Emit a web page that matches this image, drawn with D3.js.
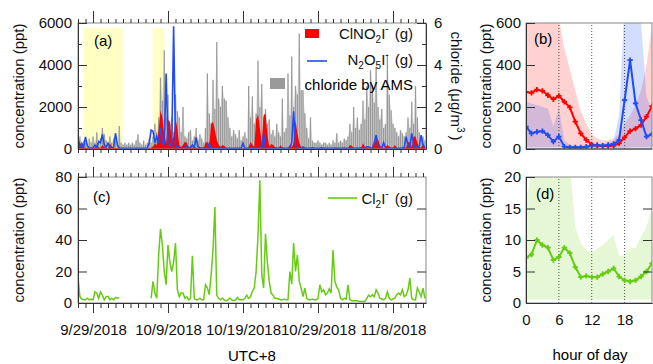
<!DOCTYPE html>
<html>
<head>
<meta charset="utf-8">
<script src="https://cdn.jsdelivr.net/npm/d3@7"></script>
<style>
  body { margin: 0; background: #fff; }
  svg { display: block; font-family: "Liberation Sans", Arial, sans-serif; }
</style>
</head>
<body>
<svg id="chart" width="653" height="364"></svg>
<script>
// time series: days since 9/27/2018 00:00 (UTC+8), one value every 6 h
const stepDays = 0.25;

// ClNO2I- (ppt)
const clno2 = [
  650,300,150,80,  60,50,40,30,  30,60,140,80,  40,190,100,40,  30,270,120,40,
  30,50,40,20,  20,20,20,20,  20,30,20,20,  20,40,30,20,  20,30,40,60,
  120,270,180,900,  1850,1500,700,300,  1380,1300,400,600,  1450,1000,190,80,  200,350,300,80,
  100,60,100,60,  40,60,50,40,  300,350,100,1200,  1300,900,430,200,  100,190,150,60,
  40,60,40,50,  60,40,70,40,  30,60,40,80,  350,200,100,1400,  1650,1000,300,1600,
  1700,700,100,240,  200,80,60,40,  190,60,40,40,  60,190,80,300,  1380,745,300,100,
  100,60,40,30,  30,20,30,20,  20,30,20,20,  20,30,20,30,  20,30,40,20,
  30,20,40,30,  40,190,150,60,  40,60,40,50,  270,100,60,40,  40,60,200,500,
  450,200,60,40,  100,190,120,40,  60,190,60,40,  40,60,40,80,  350,300,100,590,
  590,300,100,60,  270,100
];

// N2O5I- (ppt)
const n2o5 = [
  50,100,270,80,  580,150,60,50,  60,190,80,350,  300,700,200,80,  270,100,60,80,
  750,200,40,30,  30,30,30,30,  30,30,30,30,  30,30,30,30,  30,60,300,900,
  850,300,600,300,  1000,300,200,3600,  300,200,150,5850,  150,100,80,60,  80,60,120,60,
  80,200,60,550,  100,60,40,40,  40,60,270,60,  40,30,30,30,  40,30,30,30,
  30,30,30,30,  30,30,30,30,  270,40,30,30,  30,40,30,30,  60,100,40,745,
  60,40,30,30,  30,30,40,30,  30,60,30,30,  30,60,300,1800,  200,60,40,30,
  100,40,30,30,  30,60,30,30,  30,30,60,30,  30,30,30,30,  30,40,30,30,
  30,30,40,30,  30,30,40,30,  30,40,30,60,  40,60,100,100,  40,60,300,665,
  200,60,40,300,  60,40,30,40,  30,40,30,30,  30,40,80,590,  150,100,745,200,
  60,100,120,665,  190,60
];

// chloride by AMS (ug/m3)
const chloride = [
  0.3,0.6,0.2,0.4,  0.3,0.2,0.5,0.3,  0.6,0.3,0.8,0.4,  0.5,1.0,0.7,0.4,  0.3,0.6,0.3,0.5,
  0.4,0.3,1.1,0.3,  0.2,0.3,0.2,0.3,  0.2,0.3,0.2,0.4,  0.7,0.3,0.2,0.4,  0.2,0.3,0.5,0.3,
  0.6,1.2,0.8,1.5,  3.4,2.3,4.7,1.5,  2.6,1.2,1.5,0.8,  2.6,1.8,1.5,0.8,  2.0,0.6,0.5,0.8,
  0.9,0.4,0.6,1.0,  0.4,0.7,0.5,0.3,  1.0,3.6,1.7,1.2,  3.3,1.9,5.1,2.4,  2.0,3.0,2.4,2.3,
  1.5,1.0,0.6,0.9,  0.7,0.5,0.9,0.4,  0.6,0.8,0.5,3.0,  1.5,2.5,1.2,1.7,  4.2,2.0,3.1,1.5,
  1.9,1.2,1.4,0.7,  0.9,0.6,1.2,0.8,  0.6,2.4,0.8,1.0,  3.6,1.6,4.4,2.0,  3.0,2.6,5.5,2.8,
  2.8,1.7,1.0,0.5,  1.5,0.4,0.3,0.3,  0.4,0.3,0.2,0.3,  0.3,0.2,0.3,0.2,  0.4,0.3,0.75,0.3,
  0.4,0.3,0.5,0.4,  0.6,1.2,0.8,2.0,  1.0,1.5,0.9,1.2,  2.3,1.4,3.0,2.0,  3.75,3.0,2.2,3.9,
  2.0,1.4,1.9,1.0,  1.2,4.5,2.6,1.85,  1.2,1.0,0.8,0.6,  0.9,0.75,0.6,0.8,  1.5,1.0,2.25,1.2,
  3.0,1.5,0.8,0.5,  0.6,0.4
];

// Cl2I- (ppt), null = no data
const cl2 = [
  16.8,4,2.5,2,  2,3,2,2.5,  2,7,6.3,3,  7,5,2,4,  4.2,2,3,2,
  3.6,3,3.6,null,  null,null,null,null,  null,null,null,null,  null,null,null,null,  null,null,null,3,
  13.7,6.3,3,30,  47,36.8,20,11.6,  36.8,26,20,26,  38,8.4,4,6.3,  6.3,3,4,2,
  3,30,3,2,  2,3,2,2,  11.6,9.5,5.3,17.9,  33.7,61,5,3,  2,3,2,1.5,
  2,3,2,1.5,  2,3.5,2,2,  2,3,5,3,  4,7.4,9.5,20,  43,78,18,9.5,
  44,26,13.7,6.3,  5,3,3,2.5,  2,2,2.5,2,  2,20,12,38,  20,30.5,13.7,9.5,
  4,9.5,3,2,  2,2.5,2,2,  3,11.6,7,8.4,  5.3,6.3,9,6.3,  33.7,13.7,10,8.4,
  3,2,3,2.5,  11.6,2,1.5,1.5,  1.5,1.5,1,1,  1,1,3,5,  4,5.3,4,8.4,
  6.3,3,2.5,2,  3,7,3,2,  2.5,3,5.3,6.3,  5.3,8.4,4,5,  8.4,15.8,3,2,
  2,9.5,7,4,  9.5,3
];

// yellow highlighted periods (days since 9/27)
const yellowSpans = [[0.71, 5.96], [9.96, 11.5]];
const dateTicks = [2, 12, 22, 32, 42];
const dateLabels = ["9/29/2018", "10/9/2018", "10/19/2018", "10/29/2018", "11/8/2018"];

// diurnal profiles
const hours = [0,1,2,3,4,5,6,7,8,9,10,11,12,13,14,15,16,17,18,19,20,21,22,23];
const clno2Diel   = [272,267,283,277,256,237,253,225,198,130,74,43,22,16,14,14,16,27,55,85,97,114,154,204];
const clno2DielHi = [700,700,700,700,700,700,620,480,380,280,180,120,70,50,40,40,50,70,120,160,210,280,400,590];
const clno2DielLo = [10,10,10,10,10,10,10,8,6,5,4,3,2,2,2,2,2,3,5,8,10,10,10,10];
const n2o5Diel    = [106,74,82,85,66,35,59,11,8,8,8,11,16,19,16,19,24,43,233,423,217,138,59,71];
const n2o5DielHi  = [225,215,209,200,193,106,200,40,20,15,15,15,20,25,25,30,40,160,700,700,700,600,250,180];
const n2o5DielLo  = [5,5,5,5,5,3,3,2,2,2,2,2,2,2,2,2,2,3,5,5,5,5,5,5];
const cl2Diel     = [7.2,7.7,10.0,9.2,8.8,6.8,7.3,8.8,7.9,5.7,4.1,4.3,4.1,4.1,4.6,5.0,5.5,4.2,3.6,3.4,3.6,4.2,5.0,6.3];
const cl2DielHi   = [16.3,21,22,22,22,19.5,22,22,22,12.1,9.5,8.4,8.0,8.6,9.2,10.0,10.8,7.4,7.6,8.8,8.7,10.5,12.1,15.3];
const cl2DielLo   = [0.5,0.5,0.5,0.5,0.5,0.5,0.5,0.5,0.5,0.5,0.5,0.5,0.5,0.5,0.5,0.5,0.5,0.5,0.5,0.5,0.5,0.5,0.5,0.5];

const RED = "#ff0000", BLUE = "#1f4cf5", GRAY = "#9a9a9a", GREEN = "#66cc11";
const intFmt = d3.format("d");

const svg = d3.select("#chart");

const xT = d3.scaleLinear().domain([0, 46.4]).range([78, 426]);
const yA = d3.scaleLinear().domain([0, 6000]).range([149, 23]);
const yCl = d3.scaleLinear().domain([0, 6]).range([149, 23]);
const yC = d3.scaleLinear().domain([0, 80]).range([303, 177]);
const xH = d3.scaleLinear().domain([0, 23]).range([526, 652]);
const yB = d3.scaleLinear().domain([0, 600]).range([149, 23]);
const yD = d3.scaleLinear().domain([0, 20]).range([303, 177]);

const tDay = (d, i) => xT(i * stepDays);
const allDays = d3.range(0, 47);

function styleAxis(g, showDomain) {
  g.attr("font-size", 15).attr("font-family", null);
  g.selectAll("text").attr("fill", "#111");
  g.selectAll("line").attr("stroke", "#333");
  g.select(".domain").attr("stroke", showDomain ? "#333" : "none");
}

function addAxis(gen, tx, ty, showDomain) {
  const g = svg.append("g").attr("transform", `translate(${tx},${ty})`).call(gen);
  styleAxis(g, showDomain);
  return g;
}

function frame(x0, x1, y0, y1) {
  svg.append("rect")
    .attr("x", x0).attr("y", y1).attr("width", x1 - x0).attr("height", y0 - y1)
    .attr("fill", "none").attr("stroke", "#888");
}

function clip(id, x0, x1, y0, y1) {
  svg.append("clipPath").attr("id", id).append("rect")
    .attr("x", x0).attr("y", y1).attr("width", x1 - x0).attr("height", y0 - y1);
}

function richText(x, y, parts, anchor, rotate) {
  const t = svg.append("text")
    .attr("text-anchor", anchor || "start")
    .attr("font-size", 15).attr("fill", "#111");
  if (rotate) t.attr("transform", `translate(${x},${y}) rotate(${rotate})`);
  else t.attr("x", x).attr("y", y);
  let cur = 0;
  parts.forEach(([s, off, fs, dx]) => {
    const sp = t.append("tspan").attr("dy", off - cur).attr("font-size", fs).text(s);
    if (dx) sp.attr("dx", dx);
    cur = off;
  });
  return t;
}

// ---------- panel (a) ----------
clip("clipA", 78, 426, 149, 23);
const gA = svg.append("g").attr("clip-path", "url(#clipA)");

gA.selectAll("rect.yellow")
  .data(yellowSpans)
  .join("rect")
    .attr("class", "yellow")
    .attr("x", d => xT(d[0]))
    .attr("width", d => xT(d[1]) - xT(d[0]))
    .attr("y", yA(5750))
    .attr("height", yA(0) - yA(5750))
    .attr("fill", "#ffffc4");

// chloride drawn as sticks to zero
gA.append("path")
  .datum(chloride)
  .attr("d", d3.area().x(tDay).y0(yCl(0)).y1(d => yCl(d)))
  .attr("fill", GRAY).attr("fill-opacity", 0.35);
gA.selectAll("line.cl")
  .data(chloride)
  .join("line")
    .attr("class", "cl")
    .attr("x1", tDay).attr("x2", tDay)
    .attr("y1", yCl(0)).attr("y2", d => yCl(d))
    .attr("stroke", GRAY).attr("stroke-width", 1.3);

gA.append("path")
  .datum(clno2)
  .attr("d", d3.area().x(tDay).y0(yA(0)).y1(d => yA(d)))
  .attr("fill", RED);

gA.append("path")
  .datum(n2o5)
  .attr("d", d3.line().x(tDay).y(d => yA(d)))
  .attr("fill", "none").attr("stroke", BLUE).attr("stroke-width", 1.6);

frame(78, 426, 149, 23);

addAxis(d3.axisLeft(yA).tickValues([0, 2000, 4000, 6000]).tickFormat(intFmt).tickSizeInner(-9).tickSizeOuter(0).tickPadding(6), 78, 0, true);
addAxis(d3.axisLeft(yA).tickValues([1000, 3000, 5000]).tickSize(-4).tickFormat(""), 78, 0, false);
addAxis(d3.axisRight(yCl).tickValues([0, 2, 4, 6]).tickFormat(intFmt).tickSizeInner(-9).tickSizeOuter(0).tickPadding(8), 426, 0, true);
addAxis(d3.axisRight(yCl).tickValues([1, 3, 5]).tickSize(-4).tickFormat(""), 426, 0, false);
addAxis(d3.axisBottom(xT).tickValues(allDays).tickSize(4).tickSizeOuter(0).tickFormat(""), 0, 149, true);
addAxis(d3.axisBottom(xT).tickValues(dateTicks).tickSize(8).tickFormat(""), 0, 149, false);
addAxis(d3.axisTop(xT).tickValues(allDays).tickSize(4).tickSizeOuter(0).tickFormat(""), 0, 23, false);
addAxis(d3.axisTop(xT).tickValues(dateTicks).tickSize(12).tickFormat(""), 0, 23, false);

svg.append("text").attr("x", 94).attr("y", 46).attr("font-size", 15).text("(a)");

// legend (a)
svg.append("rect").attr("x", 305).attr("y", 29).attr("width", 14).attr("height", 9).attr("fill", RED);
richText(413, 39, [["ClNO", 0, 15], ["2", 4, 10], ["I", 0, 15], ["-", -7, 10], ["(g)", 0, 15, 6]], "end");
svg.append("line").attr("x1", 307).attr("x2", 327).attr("y1", 61).attr("y2", 61)
  .attr("stroke", BLUE).attr("stroke-width", 1.6);
richText(413, 65, [["N", 0, 15], ["2", 4, 10], ["O", 0, 15], ["5", 4, 10], ["I", 0, 15], ["-", -7, 10], ["(g)", 0, 15, 6]], "end");
svg.append("rect").attr("x", 270).attr("y", 78).attr("width", 15).attr("height", 11).attr("fill", GRAY);
svg.append("text").attr("x", 413).attr("y", 90).attr("text-anchor", "end").attr("font-size", 15).text("chloride by AMS");

richText(24, 86, [["concentration (ppt)", 0, 15]], "middle", -90);
richText(451, 86, [["chloride (μg/m", 0, 15], ["3", -6, 10], [")", 0, 15, 3]], "middle", 90);

// ---------- panel (c) ----------
clip("clipC", 78, 426, 303, 177);
svg.append("path")
  .datum(cl2)
  .attr("clip-path", "url(#clipC)")
  .attr("d", d3.line().defined(d => d != null).x(tDay).y(d => yC(d)))
  .attr("fill", "none").attr("stroke", GREEN).attr("stroke-width", 1.5);

frame(78, 426, 303, 177);

addAxis(d3.axisLeft(yC).tickValues([0, 20, 40, 60, 80]).tickSizeInner(-9).tickSizeOuter(0).tickPadding(6), 78, 0, true);
addAxis(d3.axisRight(yC).tickValues([20, 40, 60]).tickSize(-9).tickFormat(""), 426, 0, false);
addAxis(d3.axisBottom(xT).tickValues(allDays).tickSize(5).tickSizeOuter(0).tickFormat(""), 0, 303, true);
addAxis(d3.axisBottom(xT).tickValues(dateTicks).tickSize(10).tickPadding(11)
  .tickFormat((d, i) => dateLabels[i]), 0, 303, false);
addAxis(d3.axisTop(xT).tickValues(allDays).tickSize(4).tickSizeOuter(0).tickFormat(""), 0, 177, false);
addAxis(d3.axisTop(xT).tickValues(dateTicks).tickSize(10).tickFormat(""), 0, 177, false);

svg.append("text").attr("x", 93).attr("y", 202).attr("font-size", 15).text("(c)");
svg.append("line").attr("x1", 328).attr("x2", 357).attr("y1", 198).attr("y2", 198)
  .attr("stroke", GREEN).attr("stroke-width", 1.6);
richText(413, 204, [["Cl", 0, 15], ["2", 4, 10], ["I", 0, 15], ["-", -7, 10], ["(g)", 0, 15, 6]], "end");

richText(24, 240, [["concentration (ppt)", 0, 15]], "middle", -90);
svg.append("text").attr("x", 252).attr("y", 361).attr("text-anchor", "middle").attr("font-size", 15).text("UTC+8");

// ---------- panel (b) ----------
clip("clipB", 526, 652, 149, 23);
const gB = svg.append("g").attr("clip-path", "url(#clipB)");

function band(g, hi, lo, x, y, color, op) {
  g.append("path")
    .datum(hours)
    .attr("d", d3.area().x(h => x(h)).y0((h, i) => y(lo[i])).y1((h, i) => y(hi[i])))
    .attr("fill", color).attr("fill-opacity", op);
}
function dielLine(g, vals, x, y, color) {
  g.append("path")
    .datum(vals)
    .attr("d", d3.line().x((d, i) => x(hours[i])).y(d => y(d)))
    .attr("fill", "none").attr("stroke", color).attr("stroke-width", 2);
  g.selectAll(null)
    .data(vals)
    .join("path")
      .attr("transform", (d, i) => `translate(${x(hours[i])},${y(d)})`)
      .attr("d", d3.symbol(d3.symbolCross).size(16))
      .attr("fill", color);
}
function dotted(g, x, y0, y1) {
  g.selectAll(null)
    .data([6, 12, 18])
    .join("line")
      .attr("x1", d => x(d)).attr("x2", d => x(d))
      .attr("y1", y0).attr("y2", y1)
      .attr("stroke", "#222").attr("stroke-width", 0.8).attr("stroke-dasharray", "1,2");
}

band(gB, clno2DielHi, clno2DielLo, xH, yB, RED, 0.18);
band(gB, n2o5DielHi, n2o5DielLo, xH, yB, "#2255ff", 0.2);
dotted(gB, xH, 149, 23);
dielLine(gB, clno2Diel, xH, yB, RED);
dielLine(gB, n2o5Diel, xH, yB, BLUE);

frame(526, 652, 149, 23);
addAxis(d3.axisLeft(yB).tickValues([0, 200, 400, 600]).tickSizeInner(-9).tickSizeOuter(0).tickPadding(5), 526, 0, true);
svg.append("line").attr("x1", 526).attr("x2", 652).attr("y1", 149).attr("y2", 149).attr("stroke", "#333");
svg.append("text").attr("x", 534).attr("y", 44).attr("font-size", 15).text("(b)");
richText(491, 86, [["concentration (ppt)", 0, 15]], "middle", -90);

// ---------- panel (d) ----------
clip("clipD", 526, 652, 303, 177);
const gD = svg.append("g").attr("clip-path", "url(#clipD)");
band(gD, cl2DielHi, cl2DielLo, xH, yD, "#66cc00", 0.16);
dotted(gD, xH, 303, 177);
dielLine(gD, cl2Diel, xH, yD, GREEN);

frame(526, 652, 303, 177);
addAxis(d3.axisLeft(yD).tickValues([0, 5, 10, 15, 20]).tickSizeInner(-9).tickSizeOuter(0).tickPadding(5), 526, 0, true);
addAxis(d3.axisRight(yD).tickValues([5, 10, 15]).tickSize(-9).tickFormat(""), 652, 0, false);
addAxis(d3.axisBottom(xH).tickValues([0, 6, 12, 18]).tickSize(0).tickPadding(11), 0, 303, true);
svg.append("text").attr("x", 536).attr("y", 199).attr("font-size", 15).text("(d)");
richText(491, 240, [["concentration (ppt)", 0, 15]], "middle", -90);
svg.append("text").attr("x", 590).attr("y", 360).attr("text-anchor", "middle").attr("font-size", 15).text("hour of day");
</script>
</body>
</html>
